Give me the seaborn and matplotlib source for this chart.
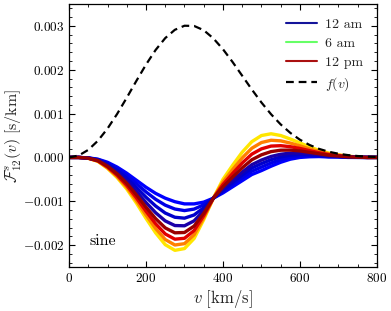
import numpy as np
import pandas as pd
import seaborn as sns
import matplotlib.pyplot as plt
from matplotlib.lines import Line2D
from matplotlib.ticker import MultipleLocator, FuncFormatter

# Velocidades (km/s)
v = [0, 25, 50, 75, 100, 125, 150, 175, 200, 225, 250, 275, 300, 325, 350, 375,
     400, 425, 450, 475, 500, 525, 550, 575, 600, 625, 650, 675, 700, 725, 750, 775, 800]

# f(v) em unidades de 1e-4 s/km
f_v = [0, 0.43, 1.72, 3.8, 6.58, 9.92, 13.62, 17.46, 21.18, 24.52, 27.23, 29.12, 30.05,
       30.0, 29.03, 27.17, 24.69, 21.77, 18.64, 15.5, 12.53, 9.85, 7.53, 5.6, 4.04,
       2.84, 1.94, 1.29, 0.84, 0.53, 0.32, 0.19, 0.11]

# F^s_12(v) em unidades de 1e-4 s/km (do mais raso ao mais fundo)
F_c1 = [0, 0, -0.1, -0.4, -1.1, -2.2, -3.6, -5.2, -6.8, -8.2, -9.3, -10.1, -10.6, -10.6, -10.2, -9.3,
        -8.1, -6.7, -5.3, -3.9, -3.0, -2.0, -1.1, -0.4, 0.0, 0.15, 0.2, 0.1, 0.1, 0, 0, 0, 0]
F_c2 = [0, 0, -0.12, -0.48, -1.31, -2.56, -4.14, -5.98, -7.87, -9.55, -10.89, -11.77, -12.13, -11.79, -10.8, -9.3,
        -7.79, -6.21, -4.65, -3.15, -2.2, -1.26, -0.49, 0.06, 0.33, 0.38, 0.34, 0.19, 0.15, 0.03, 0.01, 0, 0]
F_c3 = [0, 0, -0.13, -0.56, -1.55, -2.97, -4.75, -6.86, -9.07, -11.08, -12.69, -13.65, -13.86, -13.13, -11.48, -9.3,
        -7.48, -5.72, -4.0, -2.4, -1.4, -0.52, 0.12, 0.52, 0.66, 0.6, 0.48, 0.28, 0.2, 0.06, 0.02, 0, 0]
F_c4 = [0, 0, -0.15, -0.65, -1.79, -3.38, -5.36, -7.75, -10.28, -12.61, -14.49, -15.54, -15.6, -14.47, -12.16, -9.3,
        -7.17, -5.23, -3.35, -1.65, -0.6, 0.22, 0.73, 0.98, 0.99, 0.83, 0.62, 0.37, 0.25, 0.09, 0.03, 0, 0]
F_c5 = [0, 0, -0.16, -0.72, -2.0, -3.74, -5.9, -8.53, -11.34, -13.96, -16.08, -17.2, -17.13, -15.66, -12.76, -9.3,
        -6.71, -4.5, -2.38, -0.53, 0.6, 1.33, 1.65, 1.67, 1.49, 1.16, 0.83, 0.51, 0.33, 0.14, 0.05, 0, 0]
F_c6 = [0, 0, -0.18, -0.79, -2.18, -4.05, -6.37, -9.2, -12.27, -15.13, -17.46, -18.65, -18.45, -16.68, -13.28, -9.3,
        -6.18, -3.66, -1.27, 0.75, 1.96, 2.59, 2.68, 2.45, 2.05, 1.55, 1.07, 0.66, 0.41, 0.19, 0.06, 0, 0]
F_c7 = [0, 0, -0.19, -0.85, -2.35, -4.34, -6.8, -9.83, -13.12, -16.21, -18.73, -19.98, -19.68, -17.63, -13.76, -9.3,
        -5.62, -2.78, -0.1, 2.1, 3.4, 3.92, 3.78, 3.28, 2.64, 1.95, 1.32, 0.82, 0.5, 0.24, 0.08, 0, 0]
F_c8 = [0, 0, -0.2, -0.9, -2.5, -4.6, -7.2, -10.4, -13.9, -17.2, -19.9, -21.2, -20.8, -18.5, -14.2, -9.3,
        -5.0, -1.8, 1.2, 3.6, 5.0, 5.4, 5.0, 4.2, 3.3, 2.4, 1.6, 1.0, 0.6, 0.3, 0.1, 0, 0]

curvas = [F_c1, F_c2, F_c3, F_c4, F_c5, F_c6, F_c7, F_c8]
cores = ['#0000ff', '#0000e6', '#0000cc', '#1a00a8', '#990000', '#e00000', '#ff8000', '#ffe600']

legenda_labels = ['12 am', '6 am', '12 pm']
legenda_cores = ['#14149a', '#66ff66', '#aa1010']

sns.set_theme(style='ticks')
plt.rcParams['font.family'] = 'serif'
plt.rcParams['font.serif'] = ['cmr10']
plt.rcParams['mathtext.fontset'] = 'cm'
plt.rcParams['axes.formatter.use_mathtext'] = True

fig = plt.figure(figsize=(3.91, 3.11), dpi=100)
ax = fig.add_axes([0.1765, 0.1415, 0.7875, 0.8455])

df = pd.DataFrame({'v': v})
ordem = [7, 6, 5, 0, 1, 2, 3, 4]
for i in ordem:
    df['F'] = np.array(curvas[i]) * 1e-4
    sns.lineplot(data=df, x='v', y='F', color=cores[i], lw=2.4, ax=ax, sort=False,
                 solid_joinstyle='round')

df['f'] = np.array(f_v) * 1e-4
sns.lineplot(data=df, x='v', y='f', color='black', lw=1.6, ax=ax, sort=False,
             linestyle=(0, (3.5, 2.2)))

ax.set_xlim(0, 800)
ax.set_ylim(-0.0025, 0.0035)
ax.xaxis.set_major_locator(MultipleLocator(200))
ax.xaxis.set_minor_locator(MultipleLocator(50))
ax.yaxis.set_major_locator(MultipleLocator(0.001))
ax.yaxis.set_minor_locator(MultipleLocator(0.0002))
ax.xaxis.set_major_formatter(FuncFormatter(lambda x, p: f'${x:.0f}$'))
ax.yaxis.set_major_formatter(FuncFormatter(lambda y, p: f'${y:.3f}$'))
ax.tick_params(which='both', direction='in', top=True, right=True, labelsize=9.5, colors='black')
ax.tick_params(which='major', length=4, width=0.8)
ax.tick_params(which='minor', length=2, width=0.6)
for s in ax.spines.values():
    s.set_color('black')
    s.set_linewidth(0.9)

ax.set_xlabel(r'$v\ \mathrm{[km/s]}$', fontsize=12, labelpad=2)
ax.set_ylabel(r'$\mathcal{F}^s_{12}(v)\ \mathrm{[s/km]}$', fontsize=11.5, labelpad=-1)

ax.text(0.065, 0.085, 'sine', transform=ax.transAxes, fontsize=11.5, color='black')

handles = [Line2D([], [], color=c, lw=1.5) for c in legenda_cores]
handles.append(Line2D([], [], color='black', lw=1.6, linestyle=(0, (3.5, 2.2))))
labels = legenda_labels + [r'$f(v)$']
ax.legend(handles, labels, loc='upper right', frameon=False, fontsize=10,
          handlelength=2.2, handletextpad=0.6, labelspacing=0.45,
          borderaxespad=0.6)

fig.savefig('out.png', dpi=100)
